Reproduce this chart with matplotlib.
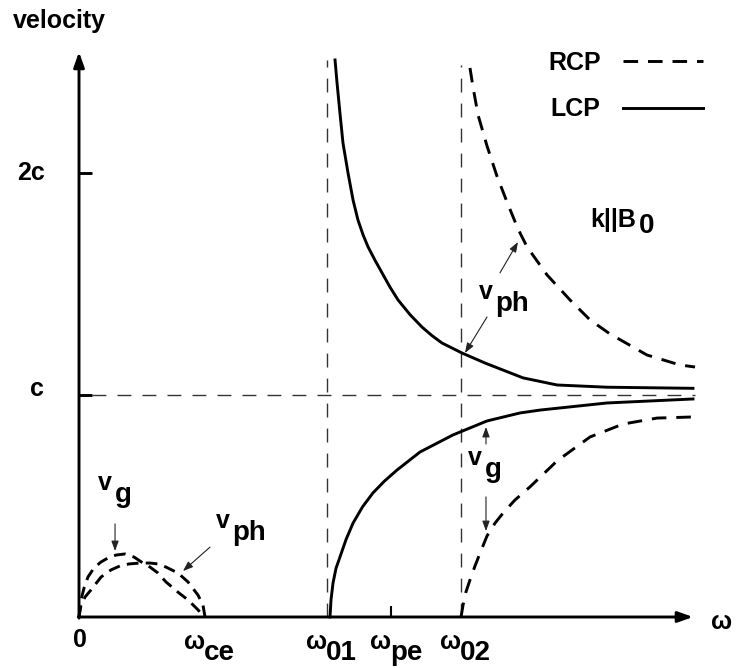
import numpy as np
import matplotlib.pyplot as plt

plt.rcParams['font.family'] = ['Liberation Sans', 'DejaVu Sans']
plt.rcParams['font.weight'] = 'bold'

# frequencies in units of omega_ce, velocities in units of c
omega_ce = 1.0
omega_01 = 1.97
omega_pe = 2.48
omega_02 = 3.03

# whistler branch (RCP, 0 < w < w_ce)
wh_w_g = [0, 0.016, 0.040, 0.071, 0.119, 0.175, 0.230, 0.294, 0.365, 0.437,
          0.508, 0.563, 0.627, 0.690, 0.738, 0.794, 0.865, 0.929, 0.984, 1.0]
wh_vg = [0, 0.077, 0.131, 0.180, 0.221, 0.248, 0.266, 0.279, 0.284, 0.270,
         0.243, 0.225, 0.198, 0.158, 0.135, 0.108, 0.077, 0.041, 0.009, 0]
wh_w_ph = [0, 0.016, 0.048, 0.095, 0.175, 0.254, 0.325, 0.397, 0.484, 0.563,
           0.627, 0.690, 0.786, 0.865, 0.944, 0.984, 1.0]
wh_vph = [0, 0.054, 0.090, 0.122, 0.180, 0.212, 0.230, 0.239, 0.243, 0.243,
          0.239, 0.225, 0.198, 0.158, 0.099, 0.054, 0]

# LCP above w_01
lcp_w_ph = [2.032, 2.048, 2.071, 2.095, 2.135, 2.175, 2.214, 2.254, 2.294,
            2.350, 2.405, 2.468, 2.532, 2.627, 2.722, 2.800, 2.881, 3.040,
            3.222, 3.524, 3.794, 4.190, 4.873]
lcp_vph = [2.509, 2.405, 2.270, 2.135, 2.000, 1.878, 1.788, 1.722, 1.667,
           1.606, 1.550, 1.486, 1.428, 1.362, 1.306, 1.268, 1.234, 1.189,
           1.144, 1.077, 1.045, 1.035, 1.030]
lcp_w_g = [1.992, 2.000, 2.016, 2.040, 2.071, 2.120, 2.175, 2.250, 2.333,
           2.424, 2.524, 2.706, 2.968, 3.238, 3.500, 3.659, 4.190, 4.873]
lcp_vg = [0, 0.077, 0.153, 0.220, 0.270, 0.350, 0.423, 0.496, 0.559,
          0.612, 0.662, 0.743, 0.820, 0.883, 0.919, 0.932, 0.964, 0.982]

# RCP above w_02
rcp_w_ph = [3.103, 3.127, 3.167, 3.238, 3.317, 3.397, 3.484, 3.556, 3.714,
            3.897, 4.056, 4.214, 4.508, 4.770, 4.889]
rcp_vph = [2.473, 2.387, 2.261, 2.122, 1.986, 1.869, 1.748, 1.667, 1.541,
           1.428, 1.338, 1.275, 1.180, 1.135, 1.126]
rcp_w_g = [3.032, 3.048, 3.071, 3.103, 3.143, 3.183, 3.238, 3.302, 3.365,
           3.460, 3.579, 3.794, 4.056, 4.317, 4.587, 4.873]
rcp_vg = [0, 0.054, 0.113, 0.167, 0.230, 0.288, 0.365, 0.423, 0.468,
          0.527, 0.586, 0.703, 0.811, 0.869, 0.896, 0.901]

FS = 18
SUB = 20
LW = 2.1
dash = (0, (5, 3.4))
guide = dict(colors='#333333', lw=1.0, linestyles=(0, (10, 8)))

fig = plt.figure(figsize=(7.4, 6.68), dpi=100)
ax = fig.add_axes([0, 0, 1, 1])
ax.set_xlim(-0.627, 5.246)
ax.set_ylim(-0.2297, 2.779)
ax.axis('off')

# axes with arrow heads
axarr = dict(arrowstyle='-|>,head_length=0.9,head_width=0.32', lw=LW,
             color='black', shrinkA=0, shrinkB=0)
ax.annotate('', xy=(0, 2.545), xytext=(0, -0.005), arrowprops=axarr)
ax.annotate('', xy=(4.873, 0), xytext=(-0.005, 0), arrowprops=axarr)
ax.hlines([1, 2], 0, 0.103, colors='black', lw=LW)
ax.vlines(omega_pe, 0, 0.05, colors='black', lw=1.5)

# guides
ax.hlines(1, 0.103, 4.889, **guide)
ax.vlines(omega_01, 0, 2.509, **guide)
ax.vlines(omega_02, 0, 2.486, **guide)

# curves
ax.plot(wh_w_g, wh_vg, color='black', lw=LW, ls=(0, (4, 2.5)))
ax.plot(wh_w_ph, wh_vph, color='black', lw=LW, ls=(0, (4, 2.5)))
lcp_line, = ax.plot(lcp_w_ph, lcp_vph, color='black', lw=LW, label='LCP')
ax.plot(lcp_w_g, lcp_vg, color='black', lw=LW)
rcp_line, = ax.plot(rcp_w_ph, rcp_vph, color='black', lw=LW, ls=dash, label='RCP')
ax.plot(rcp_w_g, rcp_vg, color='black', lw=LW, ls=dash)

ax.legend(handles=[rcp_line, lcp_line], loc='upper right',
          bbox_to_anchor=(703 / 740, 1 - 51 / 668), frameon=False,
          markerfirst=False, handlelength=3.2, handletextpad=0.9,
          labelspacing=0.9, borderpad=0, borderaxespad=0,
          prop=dict(size=FS, weight='bold'))

# axis labels
ax.text(-0.524, 2.653, 'velocity', fontsize=FS, ha='left', va='baseline')
ax.text(-0.381, 2.0, '2c', fontsize=FS, ha='center', va='center')
ax.text(-0.333, 1.027, 'c', fontsize=FS, ha='center', va='center')
ax.text(0.008, -0.104, '0', fontsize=FS, ha='center', va='center')
ax.text(5.103, -0.023, 'ω', fontsize=FS, ha='center', va='center')

for w, sub in [(omega_ce, 'ce'), (omega_01, '01'), (omega_pe, 'pe'), (omega_02, '02')]:
    ax.text(w - 0.085, -0.112, 'ω', fontsize=FS, ha='center', va='center')
    ax.text(w - 0.01, -0.162, sub, fontsize=SUB, ha='left', va='center')

ax.text(4.056, 1.757, 'k||B', fontsize=FS, ha='left', va='baseline')
ax.text(4.44, 1.730, '0', fontsize=SUB, ha='left', va='baseline')

# annotations
small = dict(arrowstyle='-|>,head_length=0.6,head_width=0.22', lw=0.8,
             color='#222222', shrinkA=0, shrinkB=0)


def label(x, y, sub):
    ax.text(x, y, 'v', fontsize=FS, ha='center', va='center')
    ax.text(x + 0.075, y - 0.055, sub, fontsize=SUB, ha='left', va='center')


label(3.230, 1.464, 'ph')
ax.annotate('', xy=(3.484, 1.689), xytext=(3.341, 1.550), arrowprops=small)
ax.annotate('', xy=(3.063, 1.189), xytext=(3.238, 1.351), arrowprops=small)

label(3.143, 0.716, 'g')
ax.annotate('', xy=(3.230, 0.856), xytext=(3.230, 0.779), arrowprops=small)
ax.annotate('', xy=(3.230, 0.387), xytext=(3.230, 0.541), arrowprops=small)

label(0.206, 0.604, 'g')
ax.annotate('', xy=(0.286, 0.297), xytext=(0.286, 0.419), arrowprops=small)

label(1.143, 0.432, 'ph')
ax.annotate('', xy=(0.825, 0.207), xytext=(1.040, 0.315), arrowprops=small)

fig.savefig('out.png', dpi=100)
